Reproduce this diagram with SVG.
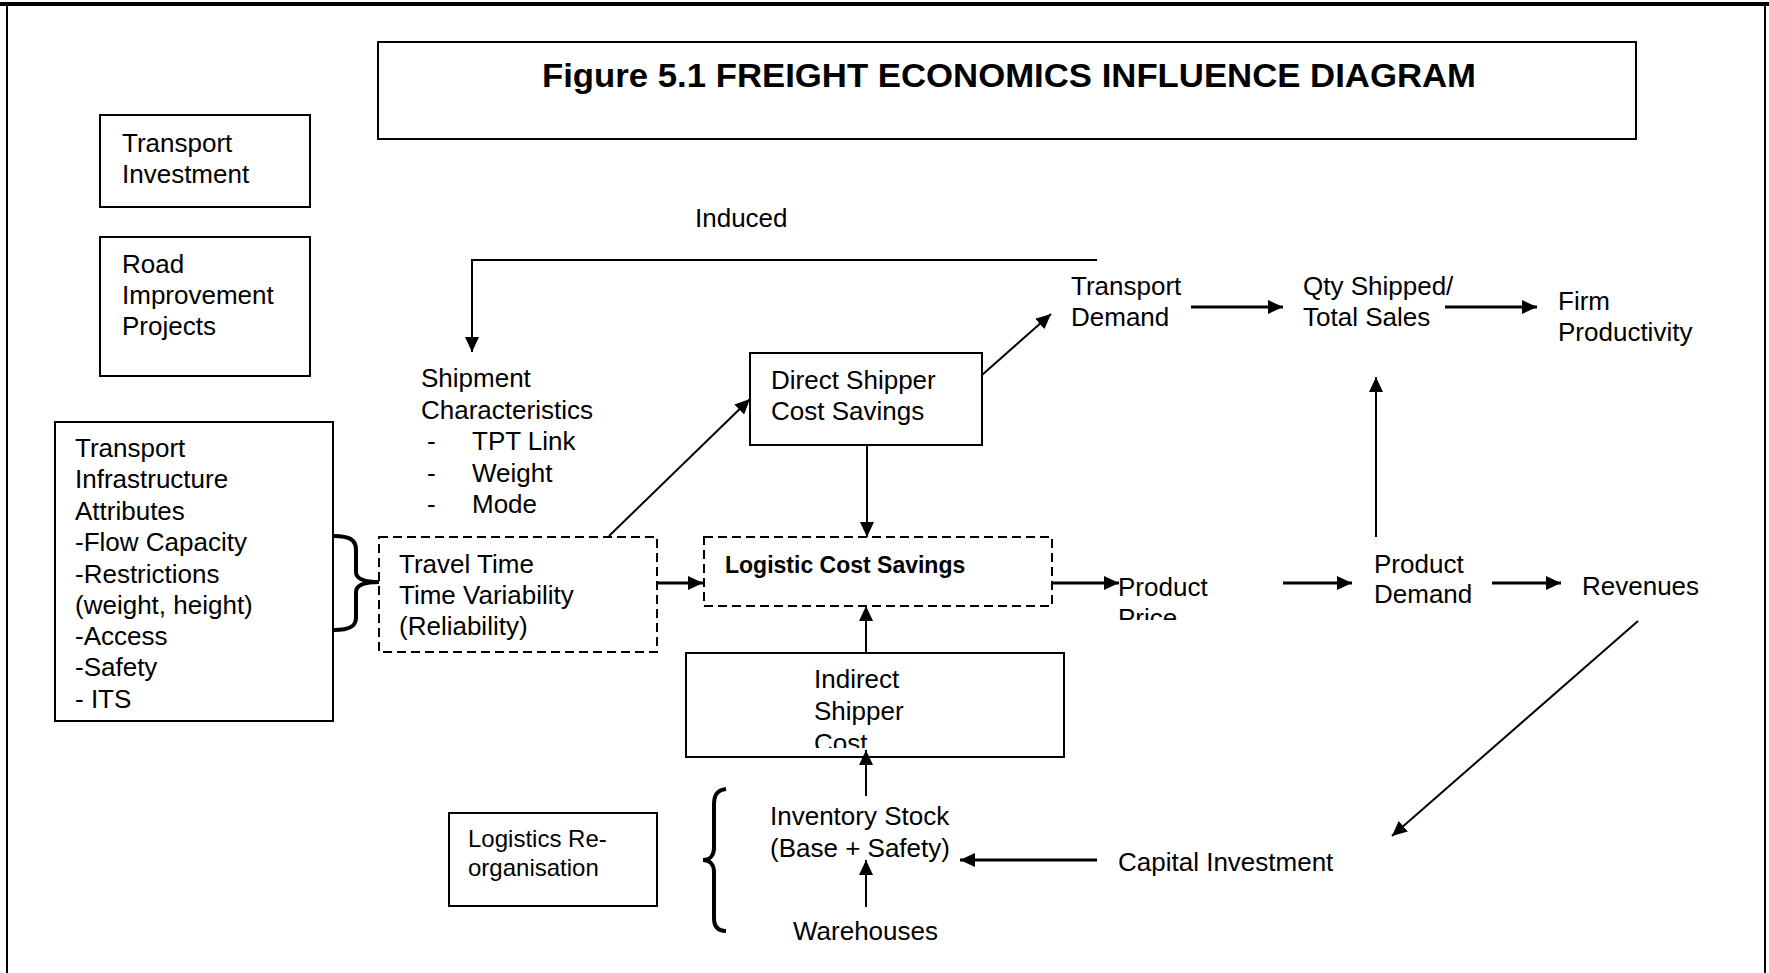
<svg xmlns="http://www.w3.org/2000/svg" width="1769" height="973" viewBox="0 0 1769 973">
  <style>
    .box { fill: #fff; stroke: #000; stroke-width: 2; }
    .dash { fill: #fff; stroke: #000; stroke-width: 2; stroke-dasharray: 9 5; }
    .t { font-family: "Liberation Sans", Arial, sans-serif; font-size: 26px; fill: #000; }
    .ta { font-family: "Liberation Sans", Arial, sans-serif; font-size: 24px; fill: #000; }
    .tb { font-family: "Liberation Sans", Arial, sans-serif; font-size: 23px; font-weight: bold; fill: #000; }
    .title { font-family: "Liberation Sans", Arial, sans-serif; font-size: 33px; font-weight: bold; fill: #000; }
    .c { fill: none; stroke: #000; stroke-width: 2; marker-end: url(#ah); }
    .ck { fill: none; stroke: #000; stroke-width: 3; marker-end: url(#ah); }
    .brace { fill: none; stroke: #000; stroke-width: 4; }
  </style>
  <defs>
    <marker id="ah" markerUnits="userSpaceOnUse" markerWidth="16" markerHeight="14" refX="15" refY="7" orient="auto">
      <path d="M0,0 L15,7 L0,14 z" fill="#000"/>
    </marker>
    <clipPath id="clipPrice"><rect x="1100" y="560" width="200" height="60"/></clipPath>
    <clipPath id="clipCost"><rect x="690" y="660" width="370" height="88"/></clipPath>
  </defs>

  <rect x="0" y="0" width="1769" height="973" fill="#fff"/>

  <!-- page frame -->
  <g id="frame">
    <line x1="0" y1="4" x2="1769" y2="4" stroke="#000" stroke-width="4"/>
    <line x1="7" y1="4" x2="7" y2="973" stroke="#000" stroke-width="2"/>
    <line x1="1765" y1="4" x2="1765" y2="973" stroke="#000" stroke-width="2"/>
  </g>

  <g id="title">
    <rect class="box" x="378" y="42" width="1258" height="97"/>
    <text class="title" x="542" y="87" textLength="934" lengthAdjust="spacingAndGlyphs">Figure 5.1 FREIGHT ECONOMICS INFLUENCE DIAGRAM</text>
  </g>

  <g id="transport-investment">
    <rect class="box" x="100" y="115" width="210" height="92"/>
    <text class="t" x="122" y="152">Transport</text>
    <text class="t" x="122" y="183">Investment</text>
  </g>

  <g id="road-improvement">
    <rect class="box" x="100" y="237" width="210" height="139"/>
    <text class="t" x="122" y="273">Road</text>
    <text class="t" x="122" y="304">Improvement</text>
    <text class="t" x="122" y="335">Projects</text>
  </g>

  <g id="infrastructure-attributes">
    <rect class="box" x="55" y="422" width="278" height="299"/>
    <text class="t" x="75" y="457">Transport</text>
    <text class="t" x="75" y="488">Infrastructure</text>
    <text class="t" x="75" y="520">Attributes</text>
    <text class="t" x="75" y="551">-Flow Capacity</text>
    <text class="t" x="75" y="583">-Restrictions</text>
    <text class="t" x="75" y="614">(weight, height)</text>
    <text class="t" x="75" y="645">-Access</text>
    <text class="t" x="75" y="676">-Safety</text>
    <text class="t" x="75" y="708">- ITS</text>
  </g>

  <g id="induced-label">
    <text class="t" x="695" y="227">Induced</text>
  </g>

  <g id="shipment-characteristics">
    <text class="t" x="421" y="387">Shipment</text>
    <text class="t" x="421" y="419">Characteristics</text>
    <text class="t" x="427" y="450">-</text>
    <text class="t" x="472" y="450">TPT Link</text>
    <text class="t" x="427" y="482">-</text>
    <text class="t" x="472" y="482">Weight</text>
    <text class="t" x="427" y="513">-</text>
    <text class="t" x="472" y="513">Mode</text>
  </g>

  <g id="direct-shipper">
    <rect class="box" x="750" y="353" width="232" height="92"/>
    <text class="t" x="771" y="389">Direct Shipper</text>
    <text class="t" x="771" y="420">Cost Savings</text>
  </g>

  <g id="travel-time">
    <rect class="dash" x="379" y="537" width="278" height="115"/>
    <text class="t" x="399" y="573">Travel Time</text>
    <text class="t" x="399" y="604">Time Variability</text>
    <text class="t" x="399" y="635">(Reliability)</text>
  </g>

  <g id="logistic-cost-savings">
    <rect class="dash" x="704" y="537" width="348" height="69"/>
    <text class="tb" x="725" y="573">Logistic Cost Savings</text>
  </g>

  <g id="indirect-shipper">
    <rect class="box" x="686" y="653" width="378" height="104"/>
    <text class="t" x="814" y="688">Indirect</text>
    <text class="t" x="814" y="720">Shipper</text>
    <text class="t" x="814" y="752" clip-path="url(#clipCost)">Cost</text>
  </g>

  <g id="transport-demand">
    <text class="t" x="1071" y="295">Transport</text>
    <text class="t" x="1071" y="326">Demand</text>
  </g>

  <g id="qty-shipped">
    <text class="t" x="1303" y="295">Qty Shipped/</text>
    <text class="t" x="1303" y="326">Total Sales</text>
  </g>

  <g id="firm-productivity">
    <text class="t" x="1558" y="310">Firm</text>
    <text class="t" x="1558" y="341">Productivity</text>
  </g>

  <g id="product-price">
    <text class="t" x="1118" y="596">Product</text>
    <text class="t" x="1118" y="627" clip-path="url(#clipPrice)">Price</text>
  </g>

  <g id="product-demand">
    <text class="t" x="1374" y="573">Product</text>
    <text class="t" x="1374" y="603">Demand</text>
  </g>

  <g id="revenues">
    <text class="t" x="1582" y="595">Revenues</text>
  </g>

  <g id="capital-investment">
    <text class="t" x="1118" y="871">Capital Investment</text>
  </g>

  <g id="inventory-stock">
    <text class="t" x="770" y="825">Inventory Stock</text>
    <text class="t" x="770" y="857">(Base + Safety)</text>
  </g>

  <g id="warehouses">
    <text class="t" x="793" y="940">Warehouses</text>
  </g>

  <g id="logistics-reorganisation">
    <rect class="box" x="449" y="813" width="208" height="93"/>
    <text class="ta" x="468" y="847">Logistics Re-</text>
    <text class="ta" x="468" y="876">organisation</text>
  </g>

  <!-- grouping braces -->
  <g id="braces">
    <path class="brace" d="M334,536 C350,536 356,540 356,550 L356,572 C356,579 364,582 379,582 C364,582 356,585 356,592 L356,618 C356,626 350,630 334,630"/>
    <path class="brace" d="M726,789 C717,790 714,795 714,805 L714,848 C714,855 710,860 703,860 C710,860 714,865 714,872 L714,918 C714,926 717,931 726,931"/>
  </g>

  <g id="connectors">
    <path class="c" d="M1097,260 H472 V352"/>
    <path class="c" d="M609,536 L750,399"/>
    <path class="c" d="M982,375 L1051,314"/>
    <path class="c" d="M867,445 V537"/>
    <path class="ck" d="M657,583 H703"/>
    <path class="c" d="M866,653 V606"/>
    <path class="ck" d="M1052,583 H1119"/>
    <path class="ck" d="M1283,583 H1352"/>
    <path class="ck" d="M1492,583 H1561"/>
    <path class="c" d="M1376,537 V377"/>
    <path class="ck" d="M1191,307 H1283"/>
    <path class="ck" d="M1445,307 H1537"/>
    <path class="c" d="M1638,621 L1392,836"/>
    <path class="ck" d="M1097,860 H960"/>
    <path class="c" d="M866,907 V860"/>
    <path class="c" d="M866,796 V750"/>
  </g>
</svg>
